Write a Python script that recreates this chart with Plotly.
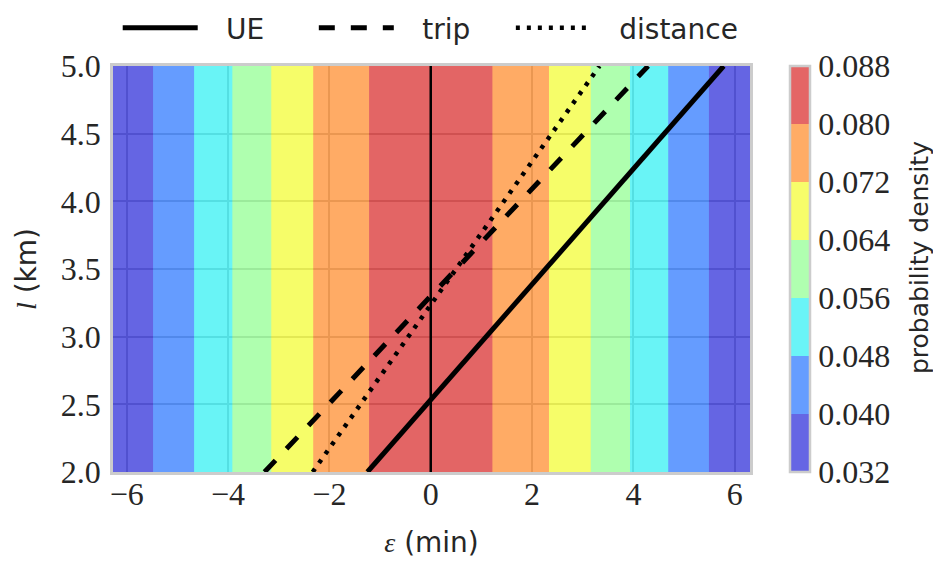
import plotly.graph_objects as go

# ---- data ----
eps_grid = [-6.27, -6.0, -5.5, -5.0, -4.5, -4.0, -3.5, -3.0, -2.5, -2.0, -1.5, -1.0, -0.5,
            0.0, 0.5, 1.0, 1.5, 2.0, 2.5, 3.0, 3.5, 4.0, 4.5, 5.0, 5.5, 6.0, 6.30]
density = [0.0325, 0.0348, 0.0398, 0.0447, 0.0497, 0.0551, 0.0604, 0.0655, 0.0703, 0.0750,
           0.0783, 0.0813, 0.0829, 0.0835, 0.0829, 0.0813, 0.0783, 0.0750, 0.0705, 0.0656,
           0.0605, 0.0553, 0.0499, 0.0448, 0.0399, 0.0349, 0.0325]
l_grid = [2.0, 5.0]

l_ends = [2.0, 5.0]
ue_eps = [-1.25, 5.78]
trip_eps = [-3.28, 4.29]
dist_eps = [-2.33, 3.33]
ref_eps = [0.0, 0.0]

levels = [0.032, 0.040, 0.048, 0.056, 0.064, 0.072, 0.080, 0.088]
x_ticks = [-6, -4, -2, 0, 2, 4, 6]
y_ticks = [2.0, 2.5, 3.0, 3.5, 4.0, 4.5, 5.0]

# jet colours at band centres (drawn with 0.6 opacity)
jet_bands = [(0, 0, 210), (0, 91, 255), (6, 237, 241), (123, 255, 123),
             (241, 252, 6), (255, 117, 0), (210, 0, 0)]
ALPHA = 0.6


def rgb(c):
    return "rgb(%d,%d,%d)" % c


def blend(c):
    return "rgb(%d,%d,%d)" % tuple(round(ALPHA * v + (1 - ALPHA) * 255) for v in c)


# contour fill colourscale: plotly samples fill colours at j/8 (j=0..8)
cols9 = [jet_bands[0]] + jet_bands + [jet_bands[-1]]
fill_scale = []
n = len(cols9)
for j, c in enumerate(cols9):
    fill_scale.append([max(0.0, (j - 0.5) / (n - 1)), rgb(c)])
    fill_scale.append([min(1.0, (j + 0.5) / (n - 1)), rgb(c)])

# colourbar: 7 discrete blended bands between 0.032 and 0.088
nb = len(jet_bands)
bar_scale = []
for k, c in enumerate(jet_bands):
    bar_scale.append([k / nb, blend(c)])
    bar_scale.append([(k + 1) / nb, blend(c)])

SERIF = "Liberation Serif, Times New Roman, serif"
SANS = "DejaVu Sans, sans-serif"
TXT = "#262626"
NB = "\u00a0"
PRE = NB + NB + "\u2009"

fig = go.Figure()
fig.add_trace(go.Contour(
    x=eps_grid, y=l_grid, z=[density, density],
    autocontour=False,
    contours=dict(start=levels[0], end=levels[-1], size=levels[1] - levels[0],
                  coloring="fill", showlines=False),
    line=dict(width=0),
    colorscale=fill_scale,
    opacity=ALPHA,
    showscale=False,
    showlegend=False,
    hoverinfo="skip",
))

# carrier of the colour bar
fig.add_trace(go.Scatter(
    x=[eps_grid[0]], y=[l_grid[0]], mode="markers",
    marker=dict(color=[levels[0]], cmin=levels[0], cmax=levels[-1], colorscale=bar_scale,
                opacity=0, size=1, showscale=True,
                colorbar=dict(
                    x=1.0628, xanchor="left", xpad=0,
                    y=0.5, yanchor="middle", len=1.0, lenmode="fraction", ypad=0,
                    thickness=20, outlinewidth=2.5, outlinecolor="#cccccc",
                    tickmode="array", tickvals=levels,
                    ticktext=["%.3f" % v for v in levels],
                    ticks="",
                    tickfont=dict(family=SERIF, size=32, color=TXT),
                )),
    showlegend=False, hoverinfo="skip",
))

fig.add_trace(go.Scatter(x=ref_eps, y=l_ends, mode="lines",
                         line=dict(color="black", width=2.5),
                         showlegend=False, hoverinfo="skip"))
fig.add_trace(go.Scatter(x=ue_eps, y=l_ends, mode="lines", name=PRE + "UE" + NB * 5,
                         line=dict(color="black", width=5)))
fig.add_trace(go.Scatter(x=trip_eps, y=l_ends, mode="lines", name=PRE + "trip" + NB * 4,
                         line=dict(color="black", width=5, dash="16px,16px")))
fig.add_trace(go.Scatter(x=dist_eps, y=l_ends, mode="lines", name=PRE + "distance",
                         line=dict(color="black", width=4.5, dash="4px,7px")))

axis_common = dict(showline=True, mirror=True, linecolor="#cccccc", linewidth=2.5,
                   showgrid=True, gridcolor="#cccccc", gridwidth=1.5, zeroline=False,
                   ticks="", automargin=False,
                   tickfont=dict(family=SERIF, size=32, color=TXT))

fig.update_layout(
    # page body adds an 8px offset, so the figure is 8px smaller
    width=933, height=554,
    margin=dict(l=105, r=191, t=58, b=90, autoexpand=False),
    paper_bgcolor="white", plot_bgcolor="white",
    xaxis=dict(range=[eps_grid[0], eps_grid[-1]], tickmode="array", tickvals=x_ticks,
               ticktext=[("\u2212%d" % -v) if v < 0 else "%d" % v for v in x_ticks],
               ticklabelstandoff=-8,
               title=dict(text='<span style="font-family:Liberation Serif"><i>ε</i></span> (min)',
                          font=dict(family=SANS, size=28, color=TXT), standoff=22),
               **axis_common),
    yaxis=dict(range=[l_grid[0], l_grid[-1]], tickmode="array", tickvals=y_ticks,
               ticktext=["%.1f" % v for v in y_ticks],
               ticklabelstandoff=3,
               title=dict(text='<span style="font-family:Liberation Serif"><i>l</i></span> (km)',
                          font=dict(family=SANS, size=28, color=TXT), standoff=17),
               **axis_common),
    legend=dict(orientation="h", x=0.0074, xanchor="left", y=1.155, yanchor="top",
                font=dict(family=SANS, size=28, color=TXT), itemwidth=75,
                bgcolor="rgba(0,0,0,0)", borderwidth=0),
    showlegend=True,
    annotations=[dict(text="probability density", textangle=-90, showarrow=False,
                      xref="paper", yref="paper", x=1.266, y=0.528,
                      xanchor="center", yanchor="middle",
                      font=dict(family=SANS, size=25, color=TXT))],
)

fig.write_html("out.html")
